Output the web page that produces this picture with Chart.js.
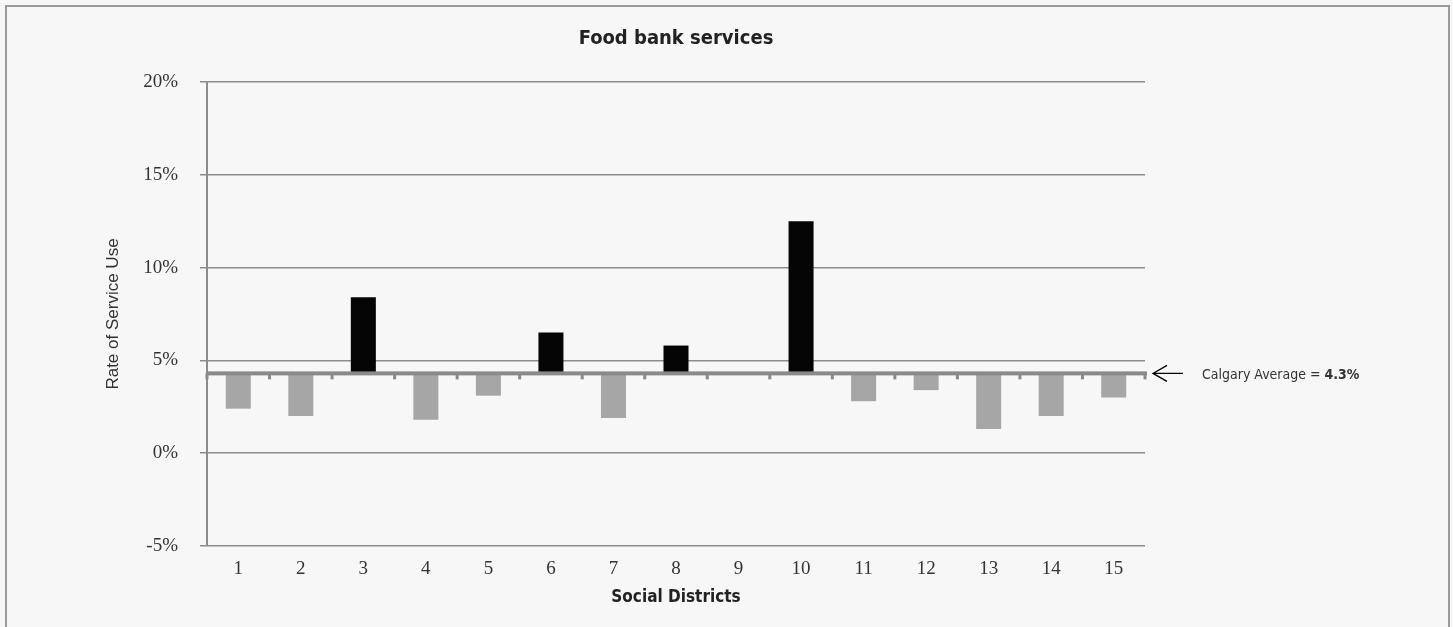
<!DOCTYPE html>
<html>
<head>
<meta charset="utf-8">
<script src="https://cdn.jsdelivr.net/npm/chart.js@4/dist/chart.umd.min.js"></script>
<style>
  html, body { margin: 0; padding: 0; background: #f7f7f7; }
  #wrap { position: absolute; left: 0; top: 0; width: 1453px; height: 627px; }
  #frame {
    position: absolute; left: 5px; top: 5px; width: 1441px; height: 640px;
    border: 2px solid #9a9a9a; pointer-events: none;
  }
</style>
</head>
<body>
<div id="wrap"><canvas id="chart" width="1453" height="627"></canvas></div>
<div id="frame"></div>
<script>
const districts = ["1", "2", "3", "4", "5", "6", "7", "8", "9", "10", "11", "12", "13", "14", "15"];
const rates = [2.4, 2.0, 8.4, 1.8, 3.1, 6.5, 1.9, 5.8, 4.3, 12.5, 2.8, 3.4, 1.3, 2.0, 3.0];
const average = 4.3;
const yMin = -5;
const yMax = 20;
const yStep = 5;

const narrow = '"Liberation Sans Narrow", "DejaVu Sans Condensed", "Roboto", sans-serif';
const serif = '"Liberation Serif", "DejaVu Serif", serif';

// bars float from the city average up or down to each district's rate
const barData = rates.map(v => [average, v]);
const barColors = rates.map(v => (v > average ? "#050505" : "#a6a6a6"));

const averageLine = {
  id: "averageLine",
  afterDatasetsDraw(chart) {
    const { ctx, chartArea, scales } = chart;
    const y = scales.y.getPixelForValue(average);
    ctx.save();
    ctx.fillStyle = "#8a8a8a";
    ctx.fillRect(chartArea.left, y - 2, chartArea.right - chartArea.left + 2, 4);
    // little marks between districts
    const step = (chartArea.right - chartArea.left) / districts.length;
    for (let i = 0; i <= districts.length; i++) {
      const x = chartArea.left + i * step;
      ctx.fillRect(x - 1.5, y, 3, 6);
    }
    // arrow + label
    const ax = chartArea.right + 8;
    ctx.strokeStyle = "#000";
    ctx.lineWidth = 1.3;
    ctx.beginPath();
    ctx.moveTo(ax + 30, y);
    ctx.lineTo(ax, y);
    ctx.moveTo(ax + 14, y - 8);
    ctx.lineTo(ax, y);
    ctx.lineTo(ax + 14, y + 8);
    ctx.stroke();
    ctx.fillStyle = "#333";
    ctx.textBaseline = "middle";
    ctx.font = "14px " + narrow;
    const label = "Calgary Average = ";
    const tx = chartArea.right + 57;
    ctx.fillText(label, tx, y + 2);
    const w = ctx.measureText(label).width;
    ctx.font = "bold 14px " + narrow;
    ctx.fillText(average + "%", tx + w, y + 2);
    ctx.restore();
  }
};

const ctx = document.getElementById("chart").getContext("2d");
new Chart(ctx, {
  type: "bar",
  data: {
    labels: districts,
    datasets: [{
      data: barData,
      backgroundColor: barColors,
      borderWidth: 0,
      barPercentage: 0.4,
      categoryPercentage: 1.0
    }]
  },
  options: {
    responsive: false,
    animation: false,
    layout: { padding: { left: 0, right: 308, top: 0, bottom: 0 } },
    plugins: {
      legend: { display: false },
      tooltip: { enabled: false },
      title: {
        display: true,
        fullSize: false,
        text: "Food bank services",
        color: "#222",
        font: { family: narrow, size: 20, weight: "bold" },
        padding: { top: 27, bottom: 31 }
      }
    },
    scales: {
      x: {
        grid: { display: false, drawTicks: false },
        border: { display: false },
        ticks: { color: "#333", font: { family: serif, size: 19 }, padding: 12 },
        title: {
          display: true,
          text: "Social Districts",
          color: "#222",
          font: { family: narrow, size: 17, weight: "bold" },
          padding: { top: 0, bottom: 19 }
        },
        afterFit(scale) { scale.height = 81; }
      },
      y: {
        min: yMin,
        max: yMax,
        ticks: {
          stepSize: yStep,
          color: "#333",
          font: { family: serif, size: 19 },
          padding: 22,
          callback: v => v + "%"
        },
        grid: { color: "#8c8c8c", lineWidth: 1.5, tickLength: 7 },
        border: { display: true, color: "#8c8c8c", width: 2 },
        title: {
          display: true,
          text: "Rate of Service Use",
          color: "#333",
          font: { family: '"Liberation Sans", Arial, sans-serif', size: 17 },
          padding: { top: 103, bottom: 0 }
        },
        afterFit(scale) { scale.width = 207; }
      }
    }
  },
  plugins: [averageLine]
});
</script>
</body>
</html>
